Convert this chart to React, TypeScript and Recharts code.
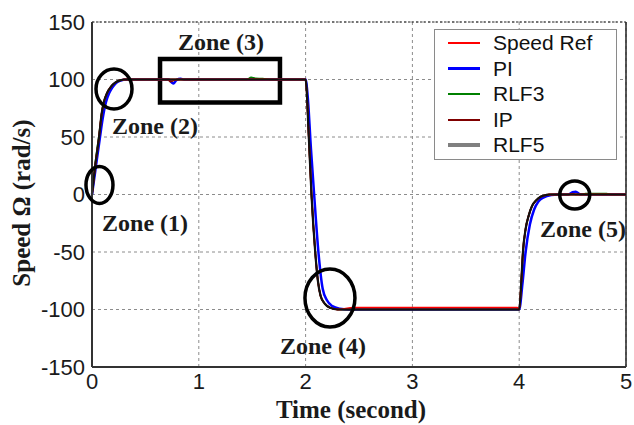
import {
  CartesianGrid,
  Legend,
  Line,
  LineChart,
  ReferenceArea,
  ReferenceDot,
  ReferenceLine,
  XAxis,
  YAxis,
} from "recharts";

// time (s) / speed (rad/s) samples
const rlf5Time = [0, 0.03, 0.066, 0.09, 0.11, 0.14, 0.18, 0.22, 0.27, 0.3, 2, 2.03, 2.055, 2.09, 2.115, 2.14, 2.18, 2.23, 2.3, 4, 4.02, 4.035, 4.06, 4.09, 4.12, 4.16, 4.2, 4.25, 4.28, 5];
const rlf5Speed = [0, 25, 50, 70, 80, 88, 94, 97.5, 99.5, 100, 100, 50, 0, -50, -75, -88, -95, -98.5, -100, -100, -75, -50, -30, -18, -10, -5, -2, -0.5, 0, 0];

const refTime = [0, 0.03, 0.066, 0.09, 0.11, 0.14, 0.18, 0.22, 0.27, 0.3, 2, 2.03, 2.055, 2.09, 2.115, 2.14, 2.18, 2.23, 2.3, 2.45, 3.98, 4, 4.02, 4.035, 4.06, 4.09, 4.12, 4.16, 4.2, 4.25, 4.28, 5];
const refSpeed = [0, 25, 50, 70, 80, 88, 94, 97.5, 99.5, 100, 100, 50, 0, -50, -75, -88, -95, -98.5, -100, -98.3, -98.3, -100, -75, -50, -30, -18, -10, -5, -2, -0.5, 0, 0];

const piTime = [0, 0.03, 0.075, 0.1, 0.13, 0.16, 0.19, 0.22, 0.26, 0.33, 0.72, 0.745, 0.765, 0.79, 0.83, 0.86, 2, 2.02, 2.05, 2.08, 2.12, 2.16, 2.2, 2.25, 2.32, 2.4, 4, 4.03, 4.06, 4.1, 4.14, 4.18, 4.23, 4.3, 4.36, 4.46, 4.5, 4.53, 4.57, 5];
const piSpeed = [0, 20, 50, 66, 80, 88, 93, 96.5, 98.8, 100, 100, 97.5, 96.5, 99.5, 100.6, 100, 100, 85, 40, 0, -50, -82, -92, -97, -99.3, -100, -100, -78, -50, -26, -13, -6, -2.5, -0.5, 0, 0, 2, 2.5, 0.3, 0];

const rlf3Time = [0, 0.03, 0.066, 0.09, 0.11, 0.14, 0.18, 0.22, 0.27, 0.3, 1.45, 1.49, 1.53, 1.6, 1.66, 2, 2.03, 2.055, 2.09, 2.115, 2.14, 2.18, 2.23, 2.3, 4, 4.02, 4.035, 4.06, 4.09, 4.12, 4.16, 4.2, 4.25, 4.28, 4.58, 4.62, 4.82, 4.86, 5];
const rlf3Speed = [0, 27, 52, 70, 80, 88, 94, 97.5, 99.5, 100, 100, 102, 101, 100.8, 100, 100, 50, 0, -50, -75, -88, -95, -98.5, -100, -100, -75, -50, -30, -18, -10, -5, -2, -0.5, 0, 0, 0.9, 0.9, 0, 0];

const ipTime = [0, 0.03, 0.066, 0.09, 0.11, 0.14, 0.18, 0.22, 0.27, 0.3, 0.71, 0.735, 0.76, 0.79, 2, 2.03, 2.055, 2.09, 2.115, 2.14, 2.18, 2.23, 2.3, 4, 4.02, 4.035, 4.06, 4.09, 4.12, 4.16, 4.2, 4.25, 4.28, 4.47, 4.5, 4.53, 5];
const ipSpeed = [0, 25, 50, 70, 80, 88, 94, 97.5, 99.5, 100, 100, 98, 99, 100, 100, 50, 0, -50, -75, -88, -95, -98.5, -100, -100, -75, -50, -30, -18, -10, -5, -2, -0.5, 0, 0, 0.8, 0, 0];

const xTicks = [0, 1, 2, 3, 4, 5];
const yTicks = [-150, -100, -50, 0, 50, 100, 150];

const legendNames = ["Speed Ref", "PI", "RLF3", "IP", "RLF5"];
const legendColors = ["#ff0000", "#0000ff", "#008000", "#800000", "#808080"];
const legendWidths = [2, 3, 2, 2, 4];

// zone markers: [label, t, speed] anchors
const zoneLabels: [string, number, number][] = [
  ["Zone (1)", 0.094, -31.7],
  ["Zone (2)", 0.187, 52.6],
  ["Zone (3)", 0.805, 125.7],
  ["Zone (4)", 1.76, -138.7],
  ["Zone (5)", 4.195, -37],
];
const zoneRings: [number, number, number, number][] = [
  [0.07, 8.3, 13.5, 18.5],
  [0.206, 91.7, 18, 20],
  [2.228, -90, 25, 29],
  [4.52, -0.4, 15, 14],
];

const toPoints = (time: number[], speed: number[]) =>
  time.map((t, i) => ({ t, v: speed[i] }));

const serif = "'Liberation Serif', 'Times New Roman', serif";
const sans = "'Liberation Sans', Arial, sans-serif";

const LegendBox = () => (
  <div
    style={{
      position: "absolute",
      left: 434,
      top: 29,
      width: 183,
      height: 131,
      border: "1px solid #8a8a8a",
      background: "#fff",
      boxSizing: "border-box",
    }}
  >
    {legendNames.map((name, i) => (
      <div
        key={name}
        style={{
          position: "absolute",
          left: 0,
          top: 13 + i * 25.6 - 12,
          height: 24,
          width: "100%",
        }}
      >
        <div
          style={{
            position: "absolute",
            left: 13,
            top: 12 - legendWidths[i] / 2,
            width: 32,
            height: legendWidths[i],
            background: legendColors[i],
          }}
        />
        <div
          style={{
            position: "absolute",
            left: 58,
            top: 0,
            lineHeight: "24px",
            fontFamily: sans,
            fontSize: 21,
            color: "#111",
            whiteSpace: "nowrap",
          }}
        >
          {name}
        </div>
      </div>
    ))}
  </div>
);

export default function App() {
  const tick = { fill: "#1a1a1a", fontSize: 22, fontFamily: sans };
  return (
    <div
      style={{
        position: "absolute",
        left: 0,
        top: 0,
        width: 634,
        height: 425,
        background: "#fff",
      }}
    >
      <LineChart
        width={634}
        height={425}
        margin={{ top: 22, right: 8, bottom: 0, left: 0 }}
      >
        <CartesianGrid stroke="#8c8c8c" strokeDasharray="3 3" />
        <XAxis
          dataKey="t"
          type="number"
          domain={[0, 5]}
          ticks={xTicks}
          allowDuplicatedCategory={false}
          height={58}
          tickLine={false}
          tickMargin={0}
          axisLine={{ stroke: "#333", strokeWidth: 2 }}
          tick={tick}
          label={{
            content: ({ viewBox }: any) => (
              <text
                x={viewBox.x + viewBox.width / 2 - 8}
                y={viewBox.y + 51}
                textAnchor="middle"
                fontFamily={serif}
                fontWeight="bold"
                fontSize={25}
                fill="#1a1a1a"
              >
                Time (second)
              </text>
            ),
          }}
        />
        <YAxis
          type="number"
          domain={[-150, 150]}
          ticks={yTicks}
          width={92}
          tickLine={false}
          tickMargin={1}
          axisLine={{ stroke: "#333", strokeWidth: 2 }}
          tick={tick}
          label={{
            content: () => (
              <text
                transform="translate(21,203) rotate(-90)"
                textAnchor="middle"
                dominantBaseline="central"
                fontFamily={serif}
                fontWeight="bold"
                fontSize={25}
                fill="#1a1a1a"
              >
                Speed Ω (rad/s)
              </text>
            ),
          }}
        />
        <ReferenceLine y={150} stroke="#222" strokeDasharray="2 2" />
        <ReferenceLine x={5} stroke="#222" strokeWidth={1.5} />

        <Line data={toPoints(piTime, piSpeed)} dataKey="v" name="PI" type="monotone" stroke="#0000ff" strokeWidth={2.5} dot={false} isAnimationActive={false} />
        <Line data={toPoints(rlf3Time, rlf3Speed)} dataKey="v" name="RLF3" type="monotone" stroke="#008000" strokeWidth={1.6} dot={false} isAnimationActive={false} />
        <Line data={toPoints(ipTime, ipSpeed)} dataKey="v" name="IP" type="monotone" stroke="#800000" strokeWidth={1.6} dot={false} isAnimationActive={false} />
        <Line data={toPoints(refTime, refSpeed)} dataKey="v" name="Speed Ref" type="monotone" stroke="#ff0000" strokeWidth={1.8} dot={false} isAnimationActive={false} />
        <Line data={toPoints(rlf5Time, rlf5Speed)} dataKey="v" name="RLF5" type="monotone" stroke="#111" strokeWidth={2.2} dot={false} isAnimationActive={false} />

        <ReferenceArea
          x1={0.637}
          x2={1.76}
          y1={80}
          y2={117.8}
          fill="none"
          fillOpacity={0}
          stroke="#000"
          strokeWidth={4.5}
        />
        {zoneRings.map(([t, v, rx, ry], i) => (
          <ReferenceDot
            key={`ring-${i}`}
            x={t}
            y={v}
            r={rx}
            shape={(p: any) => (
              <ellipse cx={p.cx} cy={p.cy} rx={rx} ry={ry} fill="none" stroke="#000" strokeWidth={3.5} />
            )}
          />
        ))}
        {zoneLabels.map(([label, t, v]) => (
          <ReferenceDot
            key={label}
            x={t}
            y={v}
            r={1}
            shape={(p: any) => (
              <text
                x={p.cx}
                y={p.cy}
                fontFamily={serif}
                fontWeight="bold"
                fontSize={24}
                fill="#1a1a1a"
              >
                {label}
              </text>
            )}
          />
        ))}
        <Legend content={() => null} />
      </LineChart>
      <LegendBox />
    </div>
  );
}
